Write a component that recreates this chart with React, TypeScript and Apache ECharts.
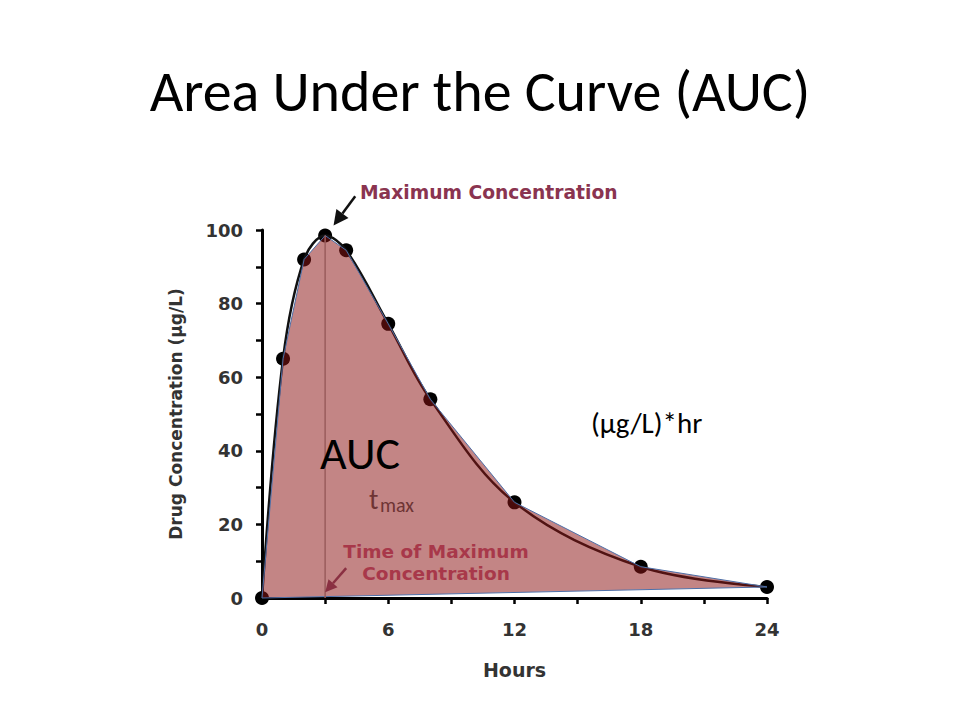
import React, { useEffect, useRef } from "react";
import * as echarts from "echarts";

// ---- data ----
const hours = [0, 1, 2, 3, 4, 6, 8, 12, 18, 24];
const concentration = [0, 65, 92, 98.5, 94.5, 74.5, 54, 26, 8.5, 3];
const xLabelValues = [0, 6, 12, 18, 24];
const yLabelValues = [0, 20, 40, 60, 80, 100];
const tmaxLine = [
  [3, 0],
  [3, 98.5],
];
// arrows: [fromX, fromY, toX, toY]
const arrows = [
  [4.43, 109.2, 3.4, 101.2],
  [4.0, 8.1, 3.0, 1.55],
];
const arrowColors = ["#111111", "#8a3042"];
const arrowHeads = [15, 12];

const LABEL_FONT = "DejaVu Sans";
const SLIDE_FONT = "Carlito, Calibri, Lato, sans-serif";

export default function App() {
  const ref = useRef<HTMLDivElement>(null);

  useEffect(() => {
    if (!ref.current) return;
    const chart = echarts.init(ref.current, null, { renderer: "svg" });
    const points = hours.map((h, i) => [h, concentration[i]]);

    const axisLabelStyle = {
      fontFamily: LABEL_FONT,
      fontWeight: "bold" as const,
      fontSize: 18,
      color: "#333333",
    };

    const option: any = {
      animation: false,
      backgroundColor: "#ffffff",
      grid: { left: 262, right: 193, top: 230, bottom: 122, containLabel: false },
      xAxis: {
        type: "value",
        min: 0,
        max: 24,
        interval: 3,
        splitLine: { show: false },
        axisLine: { show: true, lineStyle: { color: "#000", width: 3 } },
        axisTick: { show: true, length: 6, lineStyle: { color: "#000", width: 2.5 } },
        axisLabel: {
          ...axisLabelStyle,
          margin: 22,
          formatter: (v: number) => (xLabelValues.includes(v) ? String(v) : ""),
        },
        name: "Hours",
        nameLocation: "middle",
        nameGap: 62,
        nameTextStyle: { ...axisLabelStyle, fontSize: 19 },
      },
      yAxis: {
        type: "value",
        min: 0,
        max: 100,
        interval: 10,
        splitLine: { show: false },
        axisLine: { show: true, lineStyle: { color: "#000", width: 3 } },
        axisTick: { show: true, length: 6, lineStyle: { color: "#000", width: 2.5 } },
        axisLabel: {
          ...axisLabelStyle,
          margin: 19,
          formatter: (v: number) => (yLabelValues.includes(v) ? String(v) : ""),
        },
        name: "Drug Concentration (µg/L)",
        nameLocation: "middle",
        nameGap: 78,
        nameTextStyle: { ...axisLabelStyle, fontSize: 17 },
      },
      series: [
        {
          type: "scatter",
          data: points,
          symbolSize: 14,
          itemStyle: { color: "#000000", opacity: 1 },
          z: 2,
          silent: true,
        },
        {
          type: "line",
          data: points,
          smooth: 0.35,
          showSymbol: false,
          lineStyle: { color: "#111111", width: 2.5 },
          z: 3,
          silent: true,
        },
        {
          type: "custom",
          data: [[0, 0]],
          z: 4,
          silent: true,
          renderItem: (params: any, api: any) => {
            if (params.dataIndex !== 0) return null;
            const pts = hours.map((h, i) => api.coord([h, concentration[i]]));
            return {
              type: "polygon",
              shape: { points: pts },
              style: {
                fill: "rgba(140,22,22,0.52)",
                stroke: "#4d6fa8",
                lineWidth: 1,
              },
            };
          },
        },
        {
          type: "line",
          data: tmaxLine,
          showSymbol: false,
          lineStyle: { color: "#9a5c5c", width: 1.5 },
          z: 5,
          silent: true,
        },
        {
          type: "custom",
          data: arrows,
          encode: { x: [0, 2], y: [1, 3] },
          z: 6,
          silent: true,
          renderItem: (params: any, api: any) => {
            const idx = params.dataIndex;
            const color = arrowColors[idx];
            const hl = arrowHeads[idx];
            const hw = hl * 0.5;
            const p1 = api.coord([api.value(0), api.value(1)]);
            const p2 = api.coord([api.value(2), api.value(3)]);
            const dx = p2[0] - p1[0];
            const dy = p2[1] - p1[1];
            const len = Math.hypot(dx, dy);
            const ux = dx / len;
            const uy = dy / len;
            const base = [p2[0] - ux * hl, p2[1] - uy * hl];
            const left = [base[0] - uy * hw, base[1] + ux * hw];
            const right = [base[0] + uy * hw, base[1] - ux * hw];
            return {
              type: "group",
              children: [
                {
                  type: "line",
                  shape: { x1: p1[0], y1: p1[1], x2: base[0], y2: base[1] },
                  style: { stroke: color, lineWidth: 2.5 },
                },
                {
                  type: "polygon",
                  shape: { points: [p2, left, right] },
                  style: { fill: color },
                },
              ],
            };
          },
        },
      ],
      graphic: [
        {
          type: "text",
          x: 480,
          y: 91,
          z: 10,
          style: {
            text: "Area Under the Curve (AUC)",
            fontFamily: SLIDE_FONT,
            fontSize: 58,
            fill: "#000",
            align: "center",
            verticalAlign: "middle",
          },
        },
        {
          type: "text",
          x: 360,
          y: 192,
          z: 10,
          style: {
            text: "Maximum Concentration",
            fontFamily: LABEL_FONT,
            fontWeight: "bold",
            fontSize: 18.7,
            fill: "#8a3450",
            align: "left",
            verticalAlign: "middle",
          },
        },
        {
          type: "text",
          x: 436,
          y: 562,
          z: 10,
          style: {
            text: "Time of Maximum\nConcentration",
            fontFamily: LABEL_FONT,
            fontWeight: "bold",
            fontSize: 18.5,
            lineHeight: 22,
            fill: "#a8384a",
            align: "center",
            verticalAlign: "middle",
          },
        },
        {
          type: "text",
          x: 360,
          y: 453,
          z: 10,
          style: {
            text: "AUC",
            fontFamily: SLIDE_FONT,
            fontSize: 46,
            lineHeight: 46,
            fill: "#000",
            align: "center",
            verticalAlign: "middle",
          },
        },
        {
          type: "text",
          x: 591,
          y: 423,
          z: 10,
          style: {
            text: "(µg/L)*hr",
            fontFamily: SLIDE_FONT,
            fontSize: 29,
            fill: "#000",
            align: "left",
            verticalAlign: "middle",
          },
        },
        {
          type: "text",
          x: 369,
          y: 499,
          z: 10,
          style: {
            text: "t",
            fontFamily: SLIDE_FONT,
            fontSize: 28,
            lineHeight: 26,
            fill: "#6e3434",
            align: "left",
            verticalAlign: "middle",
          },
        },
        {
          type: "text",
          x: 380,
          y: 505,
          z: 10,
          style: {
            text: "max",
            fontFamily: SLIDE_FONT,
            fontSize: 20,
            fill: "#6e3434",
            align: "left",
            verticalAlign: "middle",
          },
        },
      ],
    };

    chart.setOption(option);
    return () => chart.dispose();
  }, []);

  return (
    <div
      ref={ref}
      style={{ position: "absolute", left: 0, top: 0, width: 960, height: 720 }}
    />
  );
}
